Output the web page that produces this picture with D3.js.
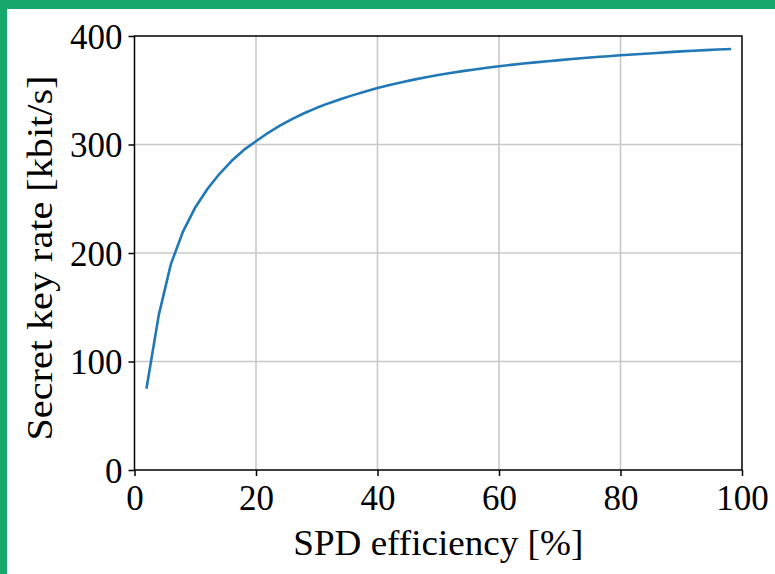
<!DOCTYPE html>
<html>
<head>
<meta charset="utf-8">
<script src="https://cdn.jsdelivr.net/npm/d3@7"></script>
<style>
  html, body { margin: 0; padding: 0; background: #fff; }
  svg { display: block; }
</style>
</head>
<body>
<svg id="chart"></svg>
<script>
var width = 775;
var height = 574;

// SPD efficiency (%) and the resulting secret key rate (kbit/s)
var efficiency = [2, 4, 6, 8, 10, 12, 14, 16, 18, 20,
  22, 24, 26, 28, 30, 32, 34, 36, 38, 40,
  42, 44, 46, 48, 50, 52, 54, 56, 58, 60,
  62, 64, 66, 68, 70, 72, 74, 76, 78, 80,
  82, 84, 86, 88, 90, 92, 94, 96, 98];
var keyRate = [76, 143, 190, 220, 242, 259, 273, 285, 295, 303,
  310.8, 317.6, 323.6, 329.0, 333.8, 338.1, 342.0, 345.5, 348.9, 352.0,
  354.8, 357.4, 359.8, 362.0, 364.0, 365.9, 367.6, 369.2, 370.7, 372.1,
  373.4, 374.6, 375.7, 376.8, 377.8, 378.8, 379.7, 380.6, 381.4, 382.2,
  383.0, 383.7, 384.4, 385.1, 385.8, 386.4, 387.0, 387.5, 388.0];

var xTicks = [0, 20, 40, 60, 80, 100];
var yTicks = [0, 100, 200, 300, 400];

var margin = { left: 134.5, right: 33, top: 36, bottom: 104 };
var font = '"Liberation Serif", "DejaVu Serif", serif';

var svg = d3.select("#chart").attr("width", width).attr("height", height);

svg.append("rect").attr("width", width).attr("height", height).attr("fill", "#fff");
// green frame on the top and left edges
svg.append("rect").attr("x", 0).attr("y", 0).attr("width", width).attr("height", 9).attr("fill", "#15a86a");
svg.append("rect").attr("x", 0).attr("y", 0).attr("width", 7).attr("height", height).attr("fill", "#15a86a");

var x = d3.scaleLinear().domain([0, 100]).range([margin.left, width - margin.right]);
var y = d3.scaleLinear().domain([0, 400]).range([height - margin.bottom, margin.top]);

var plot = svg.append("g");

// grid
plot.append("g").selectAll("line").data(xTicks.slice(1, -1)).enter().append("line")
  .attr("x1", function(d) { return x(d); }).attr("x2", function(d) { return x(d); })
  .attr("y1", y(0)).attr("y2", y(400))
  .attr("stroke", "#c8c8c8").attr("stroke-width", 1.6);
plot.append("g").selectAll("line").data(yTicks.slice(1, -1)).enter().append("line")
  .attr("y1", function(d) { return y(d); }).attr("y2", function(d) { return y(d); })
  .attr("x1", x(0)).attr("x2", x(100))
  .attr("stroke", "#c8c8c8").attr("stroke-width", 1.6);

// the curve
var line = d3.line()
  .x(function(d, i) { return x(efficiency[i]); })
  .y(function(d) { return y(d); });

plot.append("path").datum(keyRate)
  .attr("d", line)
  .attr("fill", "none")
  .attr("stroke", "#2178b6")
  .attr("stroke-width", 2.6)
  .attr("stroke-linejoin", "round")
  .attr("stroke-linecap", "square");

// axes
var xAxis = d3.axisBottom(x).tickValues(xTicks).tickSize(6).tickPadding(6);
var yAxis = d3.axisLeft(y).tickValues(yTicks).tickSize(6).tickPadding(6);

var gx = plot.append("g").attr("transform", "translate(0," + y(0) + ")").call(xAxis);
var gy = plot.append("g").attr("transform", "translate(" + x(0) + ",0)").call(yAxis);

[gx, gy].forEach(function(g) {
  g.select(".domain").remove();
  g.selectAll(".tick line").attr("stroke", "#000").attr("stroke-width", 1.5);
  g.selectAll(".tick text").attr("fill", "#000").style("font-size", "35px").style("font-family", font);
});
gx.selectAll(".tick text").attr("dy", null).attr("y", 40);
gy.selectAll(".tick text").attr("dy", "0.35em");

// frame
plot.append("rect")
  .attr("x", x(0)).attr("y", y(400))
  .attr("width", x(100) - x(0)).attr("height", y(0) - y(400))
  .attr("fill", "none").attr("stroke", "#000").attr("stroke-width", 1.5);

// axis titles
svg.append("text")
  .attr("x", (x(0) + x(100)) / 2).attr("y", 555)
  .attr("text-anchor", "middle")
  .attr("textLength", 290)
  .attr("lengthAdjust", "spacingAndGlyphs")
  .style("font-family", font).style("font-size", "36px")
  .text("SPD efficiency [%]");

svg.append("text")
  .attr("transform", "translate(52," + 258 + ") rotate(-90)")
  .attr("text-anchor", "middle")
  .attr("textLength", 365)
  .attr("lengthAdjust", "spacingAndGlyphs")
  .style("font-family", font).style("font-size", "36px")
  .text("Secret key rate [kbit/s]");
</script>
</body>
</html>
